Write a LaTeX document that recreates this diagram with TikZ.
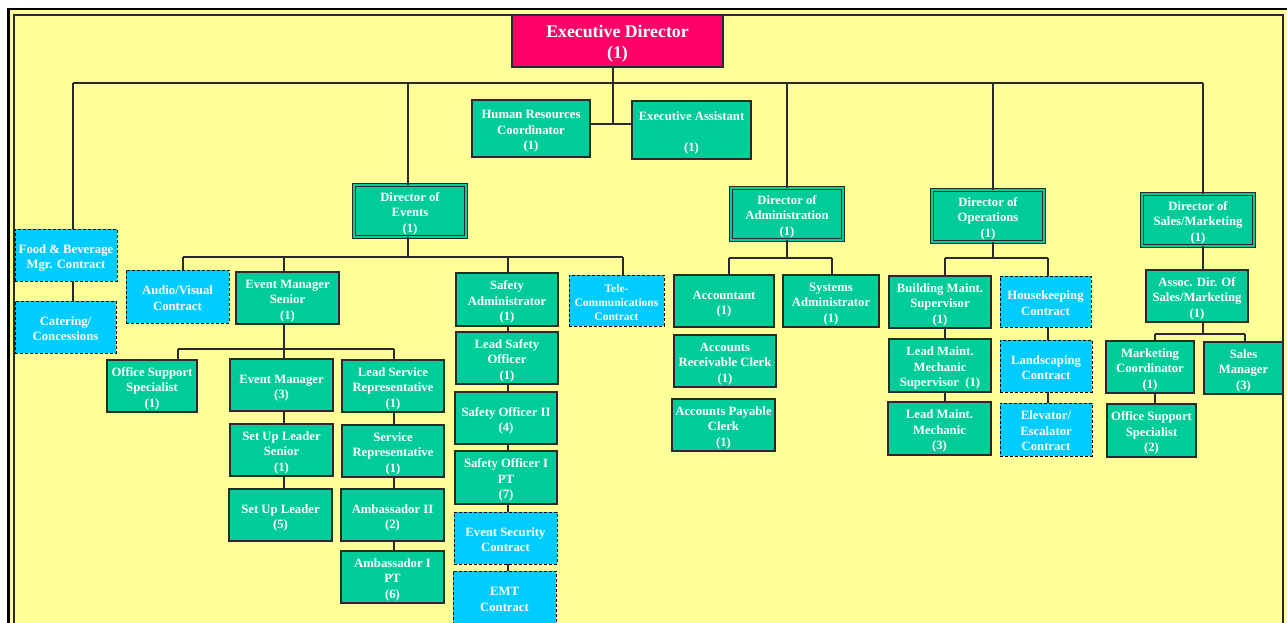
\documentclass[tikz,border=0pt]{standalone}
\usepackage{fontspec}
\setmainfont{Liberation Serif}
\definecolor{grn}{HTML}{00CC99}
\definecolor{cyn}{HTML}{00CCFF}
\definecolor{mag}{HTML}{FF0066}
\definecolor{bg}{HTML}{FFFF99}
\definecolor{ink}{HTML}{2A2A2A}
\newcommand{\tx}[1]{\raisebox{-2.7pt}[\height][\depth]{\begin{tabular}{@{}c@{}}#1\end{tabular}}}
\tikzset{
  base/.style={text=white, font=\fontsize{12.7}{15.5}\selectfont\bfseries, align=center, inner sep=0pt},
  gbox/.style={base, fill=grn, draw=ink, line width=1.5pt},
  cbox/.style={base, fill=cyn, draw=black, line width=0.9pt, dash pattern=on 3pt off 2pt},
  dbox/.style={base, fill=grn, draw=ink, line width=0.9pt, double=grn, double distance=1.6pt},
  sz/.style 2 args={minimum width=#1pt, minimum height=#2pt},
  conn/.style={draw=ink, line width=1.5pt},
}
\begin{document}
\begin{tikzpicture}[x=1pt, y=-1pt]
\useasboundingbox (0,0) rectangle (1287,622);
\clip (0,0) rectangle (1287,622);
\fill[white] (0,0) rectangle (1287,622);
% frame
\fill[bg] (8,8) rectangle (1300,640);
\draw[black, line width=2.5pt] (8.5,9) rectangle (1300,640);
\draw[ink, line width=2pt] (13.5,14.5) rectangle (1283,640);

% nodes
\node[gbox, fill=mag, sz={211}{52}, font=\fontsize{17.8}{21}\selectfont\bfseries] (ed) at (617.5,41) {\tx{Executive Director\\(1)}};
\node[gbox, sz={118}{57}] (hr) at (531,128.5) {\tx{Human Resources\\Coordinator\\(1)}};
\node[gbox, sz={119}{58}] (ea) at (691.5,130) {\tx{Executive Assistant\\[15.5pt](1)}};

\node[dbox, sz={112}{52}] (direv) at (410,211) {\tx{Director of\\Events\\(1)}};
\node[dbox, sz={112}{52}] (diradm) at (787,214) {\tx{Director of\\Administration\\(1)}};
\node[dbox, sz={112}{52}] (dirops) at (988,216) {\tx{Director of\\Operations\\(1)}};
\node[dbox, sz={112}{52}] (dirsal) at (1198,220) {\tx{Director of\\Sales/Marketing\\(1)}};

\node[cbox, sz={102}{52}] (fb) at (66,255) {\tx{Food \& Beverage\\Mgr. Contract}};
\node[cbox, sz={101}{52}] (cat) at (65.5,327) {\tx{Catering/\\Concessions}};

\node[cbox, sz={103}{53}] (av) at (177.5,296.5) {\tx{Audio/Visual\\Contract}};
\node[gbox, sz={103}{52}] (ems) at (287.5,298) {\tx{Event Manager\\Senior\\(1)}};
\node[gbox, sz={102}{53}] (sa) at (507,299.5) {\tx{Safety\\Administrator\\(1)}};
\node[cbox, sz={95}{51}, font=\fontsize{11.5}{14}\selectfont\bfseries] (tele) at (616.5,300.5) {\tx{Tele-\\Communications\\Contract}};

\node[gbox, sz={90}{52}] (oss) at (152,386) {\tx{Office Support\\Specialist\\(1)}};
\node[gbox, sz={103}{52}] (em) at (281.5,385) {\tx{Event Manager\\(3)}};
\node[gbox, sz={102}{52}] (lsr) at (393,386) {\tx{Lead Service\\Representative\\(1)}};
\node[gbox, sz={103}{52}] (suls) at (281.5,450) {\tx{Set Up Leader\\Senior\\(1)}};
\node[gbox, sz={103}{52}] (sul) at (280.5,515) {\tx{Set Up Leader\\(5)}};
\node[gbox, sz={102}{52}] (sr) at (393,451) {\tx{Service\\Representative\\(1)}};
\node[gbox, sz={103}{52}] (a2) at (392.5,515) {\tx{Ambassador II\\(2)}};
\node[gbox, sz={103}{52}] (a1) at (392.5,577) {\tx{Ambassador I\\PT\\(6)}};

\node[gbox, sz={102}{52}] (lso) at (507,358) {\tx{Lead Safety\\Officer\\(1)}};
\node[gbox, sz={102}{52}] (so2) at (506,418) {\tx{Safety Officer II\\(4)}};
\node[gbox, sz={102}{53}] (so1) at (506,477.5) {\tx{Safety Officer I\\PT\\(7)}};
\node[cbox, sz={103}{52}] (esc) at (505.5,538) {\tx{Event Security\\Contract}};
\node[cbox, sz={103}{53}] (emt) at (504.5,597.5) {\tx{EMT\\Contract}};

\node[gbox, sz={100}{52}] (acc) at (724,301) {\tx{Accountant\\(1)}};
\node[gbox, sz={96}{52}] (sys) at (831,301) {\tx{Systems\\Administrator\\(1)}};
\node[gbox, sz={102}{52}] (arc) at (725,361) {\tx{Accounts\\Receivable Clerk\\(1)}};
\node[gbox, sz={103}{52}] (apc) at (723.5,425) {\tx{Accounts Payable\\Clerk\\(1)}};

\node[gbox, sz={102}{52}] (bms) at (940,302) {\tx{Building Maint.\\Supervisor\\(1)}};
\node[cbox, sz={91}{51}] (hk) at (1045.5,301.5) {\tx{Housekeeping\\Contract}};
\node[gbox, sz={102}{53}] (lmms) at (940,365.5) {\tx{Lead Maint.\\Mechanic\\Supervisor~~(1)}};
\node[gbox, sz={103}{53}] (lmm) at (939.5,428.5) {\tx{Lead Maint.\\Mechanic\\(3)}};
\node[cbox, sz={92}{52}] (ls) at (1046,366) {\tx{Landscaping\\Contract}};
\node[cbox, sz={92}{53}] (ee) at (1046,429.5) {\tx{Elevator/\\Escalator\\Contract}};

\node[gbox, sz={102}{52}] (ads) at (1197,296) {\tx{Assoc. Dir. Of\\Sales/Marketing\\(1)}};
\node[gbox, sz={88}{52}] (mc) at (1150,367) {\tx{Marketing\\Coordinator\\(1)}};
\node[gbox, sz={79}{52}] (sm) at (1243.5,368) {\tx{Sales\\Manager\\(3)}};
\node[gbox, sz={89}{53}] (oss2) at (1151.5,430.5) {\tx{Office Support\\Specialist\\(2)}};

% bus coordinates
\coordinate (t0) at (73,83);
\coordinate (t1) at (408,83);
\coordinate (t2) at (787,83);
\coordinate (t3) at (993,83);
\coordinate (t4) at (1203,83);
\coordinate (tc) at (613,124);
\coordinate (e1) at (183,257);
\coordinate (e2) at (284,257);
\coordinate (e3) at (508,257);
\coordinate (e4) at (623,257);
\coordinate (s1) at (178,349);
\coordinate (s2) at (284,349);
\coordinate (s3) at (394,349);
\coordinate (d1) at (729,258);
\coordinate (d2) at (832,258);
\coordinate (o1) at (945,258);
\coordinate (o2) at (1048,258);
\coordinate (m1) at (1155,334);
\coordinate (m2) at (1245,334);

% connectors
\begin{scope}[conn]
\draw (t0) -- (t4);
\draw (ed.south -| tc) -- (tc);
\draw (hr.east |- tc) -- (ea.west |- tc);
\draw (t0) -- (t0 |- fb.north);
\draw (t0 |- fb.south) -- (t0 |- cat.north);
\draw (t1) -- (t1 |- direv.north);
\draw (t2) -- (t2 |- diradm.north);
\draw (t3) -- (t3 |- dirops.north);
\draw (t4) -- (t4 |- dirsal.north);
% events
\draw (t1 |- direv.south) -- (t1 |- e1);
\draw (e1) -- (e4);
\draw (e1) -- (e1 |- av.north);
\draw (e2) -- (e2 |- ems.north);
\draw (e3) -- (e3 |- sa.north);
\draw (e4) -- (e4 |- tele.north);
\draw (e2 |- ems.south) -- (s2);
\draw (s1) -- (s3);
\draw (s1) -- (s1 |- oss.north);
\draw (s2) -- (s2 |- em.north);
\draw (s3) -- (s3 |- lsr.north);
\draw (s2 |- em.south) -- (s2 |- suls.north);
\draw (s2 |- suls.south) -- (s2 |- sul.north);
\draw (s3 |- lsr.south) -- (s3 |- sr.north);
\draw (s3 |- sr.south) -- (s3 |- a2.north);
\draw (s3 |- a2.south) -- (s3 |- a1.north);
\draw (e3 |- sa.south) -- (e3 |- lso.north);
\draw (e3 |- lso.south) -- (e3 |- so2.north);
\draw (e3 |- so2.south) -- (e3 |- so1.north);
\draw (e3 |- so1.south) -- (e3 |- esc.north);
\draw (e3 |- esc.south) -- (e3 |- emt.north);
% administration
\draw (diradm.south) -- (diradm.south |- d1);
\draw (d1) -- (d2);
\draw (d1) -- (d1 |- acc.north);
\draw (d2) -- (d2 |- sys.north);
% operations
\draw (t3 |- dirops.south) -- (t3 |- o1);
\draw (o1) -- (o2);
\draw (o1) -- (o1 |- bms.north);
\draw (o2) -- (o2 |- hk.north);
\draw (o1 |- bms.south) -- (o1 |- lmms.north);
\draw (o1 |- lmms.south) -- (o1 |- lmm.north);
\draw (o2 |- hk.south) -- (o2 |- ls.north);
\draw (o2 |- ls.south) -- (o2 |- ee.north);
% sales
\draw (t4 |- dirsal.south) -- (t4 |- ads.north);
\draw (t4 |- ads.south) -- (t4 |- m1);
\draw (m1) -- (m2);
\draw (m1) -- (m1 |- mc.north);
\draw (m2) -- (m2 |- sm.north);
\draw (m1 |- mc.south) -- (m1 |- oss2.north);
\end{scope}
\end{tikzpicture}
\end{document}
